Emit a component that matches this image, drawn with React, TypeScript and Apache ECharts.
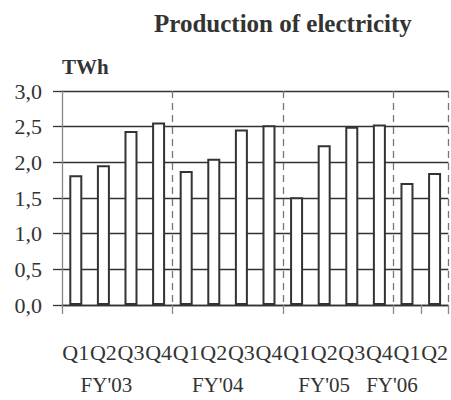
import React, { useEffect, useRef } from "react";
import * as echarts from "echarts";

const quarters = ["Q1", "Q2", "Q3", "Q4", "Q1", "Q2", "Q3", "Q4", "Q1", "Q2", "Q3", "Q4", "Q1", "Q2"];
const production = [1.82, 1.96, 2.44, 2.56, 1.88, 2.05, 2.46, 2.52, 1.51, 2.24, 2.5, 2.53, 1.71, 1.85];
const fiscalYears = ["", "FY'03", "", "", "", "FY'04", "", "", "", "FY'05", "", "", "FY'06", ""];
const yTicks = [0, 0.5, 1, 1.5, 2, 2.5, 3];

const FONT = "'Liberation Serif', 'DejaVu Serif', serif";
const TEXT = "#333333";

// label nudges (px) for the fiscal-year row
const fyShift: Record<string, [number, number]> = {
  "FY'03": [6, 0],
  "FY'04": [8, 0],
  "FY'05": [0, 0],
  "FY'06": [0, 30],
};

export default function App() {
  const ref = useRef<HTMLDivElement>(null);
  useEffect(() => {
    if (!ref.current) return;
    const chart = echarts.init(ref.current, null, { renderer: "svg" });
    const rich: Record<string, any> = {};
    Object.keys(fyShift).forEach((k, i) => {
      rich["f" + i] = {
        fontFamily: FONT,
        fontSize: 21,
        color: TEXT,
        padding: [0, fyShift[k][1], 0, fyShift[k][0]],
      };
    });
    chart.setOption({
      animation: false,
      textStyle: { fontFamily: FONT },
      title: [
        {
          text: "Production of electricity",
          left: 149,
          top: 6,
          textStyle: { fontFamily: FONT, fontSize: 25, fontWeight: "bold", color: TEXT },
        },
        {
          text: "TWh",
          left: 57,
          top: 51,
          textStyle: { fontFamily: FONT, fontSize: 21, fontWeight: "bold", color: TEXT },
        },
      ],
      grid: { left: 62, right: 2, top: 91, bottom: 95, containLabel: false },
      xAxis: [
        {
          type: "category",
          data: quarters,
          position: "bottom",
          boundaryGap: true,
          axisLine: { show: true, lineStyle: { color: "#333", width: 1.3 } },
          axisTick: { show: true, interval: 3, length: 9, lineStyle: { color: "#888", width: 1.3 } },
          axisLabel: { interval: 0, fontFamily: FONT, fontSize: 22, color: TEXT, margin: 36 },
          splitLine: {
            show: true,
            interval: (i: number) => i > 0 && i % 4 === 0,
            lineStyle: { type: [7, 5], color: "#777", width: 1.3 },
          },
        },
        {
          type: "category",
          data: fiscalYears,
          position: "bottom",
          boundaryGap: true,
          axisLine: { show: false },
          axisTick: { show: false },
          splitLine: { show: false },
          axisLabel: {
            interval: 0,
            margin: 69,
            fontFamily: FONT,
            fontSize: 21,
            color: TEXT,
            formatter: (v: string) => {
              const idx = Object.keys(fyShift).indexOf(v);
              return idx < 0 ? "" : `{f${idx}|${v}}`;
            },
            rich,
          },
        },
      ],
      yAxis: {
        type: "value",
        min: yTicks[0],
        max: yTicks[yTicks.length - 1],
        interval: 0.5,
        axisLine: { show: true, lineStyle: { color: "#888", width: 1.3 } },
        axisTick: { show: true, length: 9, lineStyle: { color: "#333", width: 1.3 } },
        axisLabel: {
          fontFamily: FONT,
          fontSize: 22,
          color: TEXT,
          margin: 20,
          formatter: (v: number) => v.toFixed(1).replace(".", ","),
        },
        splitLine: { show: true, lineStyle: { color: "#333", width: 1.3 } },
      },
      series: [
        {
          type: "bar",
          xAxisIndex: 0,
          data: production,
          barWidth: 13,
          itemStyle: { color: "#ffffff", borderColor: "#333", borderWidth: 2 },
        },
      ],
    });
    return () => chart.dispose();
  }, []);
  return <div ref={ref} style={{ width: 451, height: 400, position: "absolute", left: 0, top: 0 }} />;
}
